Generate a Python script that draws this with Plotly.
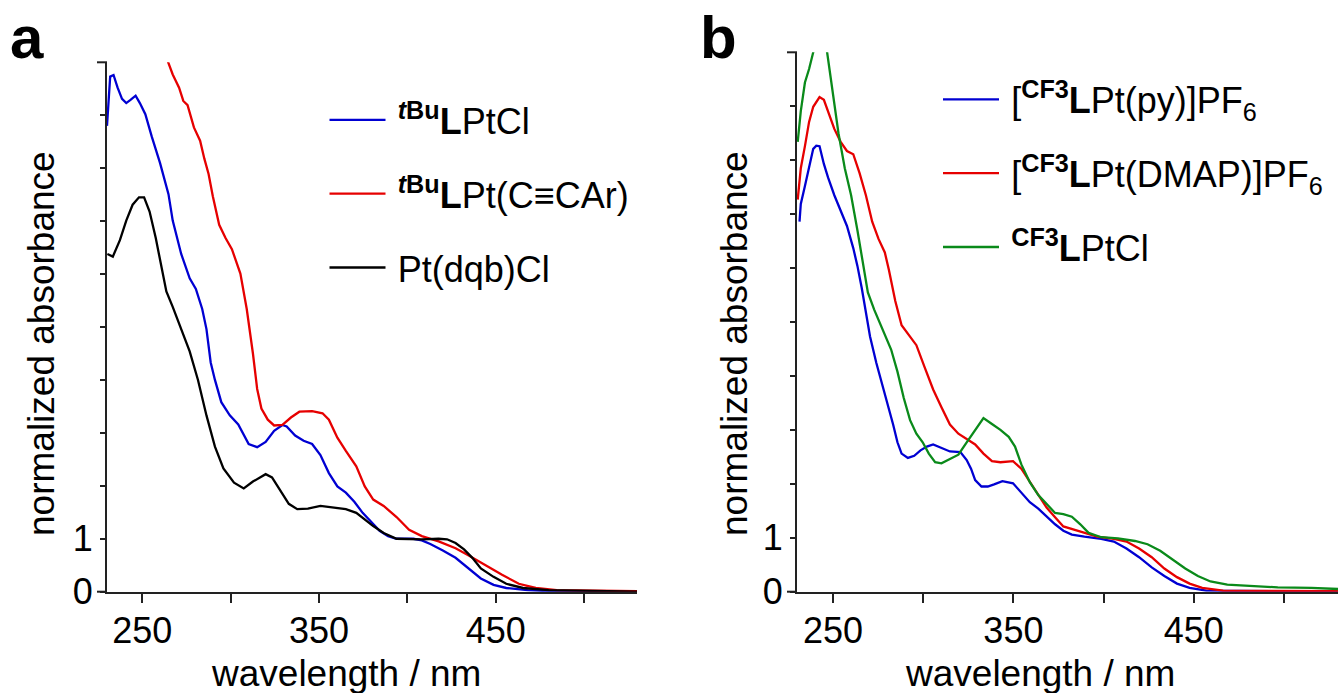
import plotly.graph_objects as go

# ---------------- data: panel a ----------------
wl_a_tbu_cl = [230, 231.8, 233.7, 236, 238.5, 240.9, 243.3, 246.2, 248.6, 251.7, 255.3, 260, 264.8, 267.2,
               272, 276.8, 280.3, 283.9, 286.3, 288.7, 291.1, 294.7, 299.5, 304.3, 310.2, 315, 319.8, 324.6,
               329.3, 331.7, 336.5, 341.3, 346.1, 350.8, 355.6, 360.4, 365.2, 370, 374.7, 379.5, 384.3,
               389.1, 393.9, 403.4, 408.2, 413, 420.1, 427.3, 434.5, 441.6, 448.8, 456, 468, 480, 530]
abs_a_tbu_cl = [8.8, 9.73, 9.76, 9.52, 9.31, 9.23, 9.29, 9.37, 9.23, 9.02, 8.6, 8.1, 7.51, 7.01,
                6.38, 5.92, 5.72, 5.34, 4.96, 4.33, 4.0, 3.58, 3.33, 3.16, 2.79, 2.73, 2.83, 3.04,
                3.15, 3.12, 2.95, 2.85, 2.79, 2.58, 2.24, 1.99, 1.87, 1.7, 1.49, 1.32, 1.15,
                1.05, 1.0, 1.0, 0.97, 0.9, 0.78, 0.64, 0.44, 0.25, 0.13, 0.07, 0.03, 0.01, 0.0]

wl_a_tbu_ccar = [263.5, 264.3, 267.2, 270.8, 273.2, 275.6, 279.2, 282.7, 285.1, 287.5, 289.9, 293.5, 297.1,
                 300.7, 305.5, 309.1, 312.6, 315, 317.4, 321, 324.6, 329.3, 334.1, 338.9, 346.1, 352,
                 355.6, 360.4, 365.2, 371.1, 375.9, 380.7, 386.6, 393.9, 401, 408.2, 417.7, 427.3, 434.5,
                 444, 453.6, 463.1, 472.7, 484.6, 530]
abs_a_tbu_ccar = [10.2, 10.03, 9.77, 9.52, 9.27, 9.19, 8.77, 8.52, 8.18, 7.89, 7.47, 6.93, 6.68,
                  6.47, 6.01, 5.34, 4.5, 3.83, 3.46, 3.25, 3.14, 3.15, 3.29, 3.40, 3.41, 3.37,
                  3.25, 2.91, 2.66, 2.37, 1.99, 1.74, 1.62, 1.41, 1.17, 1.05, 0.95, 0.82, 0.69,
                  0.5, 0.32, 0.15, 0.07, 0.03, 0.01]

wl_a_dqb = [230.2, 233.3, 237.3, 240.9, 244.5, 248.1, 251, 254.1, 257.6, 261.2, 263.6, 267.2, 272, 276.8,
            281.5, 286.3, 291.1, 295.9, 301.9, 307.4, 312.6, 319.8, 323.4, 328.1, 332.9, 337.7, 343.7,
            350.8, 358, 365.2, 371.1, 375.9, 380.7, 386.6, 393.9, 408.2, 417.7, 422.5, 427.3, 432.1,
            436.8, 441.6, 448.8, 456, 465.5, 480, 513.4, 530]
abs_a_dqb = [6.38, 6.33, 6.64, 7.01, 7.31, 7.45, 7.45, 7.18, 6.68, 6.09, 5.67, 5.38, 4.96, 4.54,
             4.0, 3.33, 2.74, 2.33, 2.06, 1.95, 2.08, 2.22, 2.16, 1.91, 1.66, 1.56, 1.57,
             1.62, 1.59, 1.56, 1.49, 1.36, 1.24, 1.11, 1.0, 0.99, 1.0, 0.99, 0.92, 0.8,
             0.64, 0.44, 0.28, 0.15, 0.07, 0.03, 0.01, 0.0]

# ---------------- data: panel b ----------------
wl_b_py = [231.4, 232.1, 234.4, 236.7, 239, 240.7, 242.5, 244.9, 247.2, 250.7, 254.2, 257.7, 261.2, 263.5,
           265.9, 268.2, 270.5, 274, 277.5, 281, 283.3, 285.7, 288, 291.5, 295, 298.5, 302, 305.5, 310.1,
           314.8, 320.6, 324.1, 326.5, 328.8, 332.3, 335.8, 339.3, 343.9, 349.8, 354.4, 359.1, 363.8,
           368.4, 373.1, 377.7, 382.4, 389.4, 398.7, 405.7, 412.7, 419.7, 426.7, 433.7, 440.7, 447.7,
           457, 530]
abs_b_py = [6.86, 7.19, 7.52, 7.85, 8.21, 8.27, 8.26, 7.93, 7.68, 7.35, 7.07, 6.78, 6.37, 6.04,
            5.63, 5.14, 4.73, 4.24, 3.83, 3.42, 3.1, 2.77, 2.56, 2.48, 2.52, 2.62, 2.69, 2.73, 2.66,
            2.6, 2.59, 2.44, 2.28, 2.07, 1.95, 1.95, 1.99, 2.05, 2.01, 1.83, 1.66, 1.54,
            1.39, 1.25, 1.13, 1.06, 1.02, 0.98, 0.93, 0.8, 0.64, 0.45, 0.29, 0.15, 0.07,
            0.02, 0.0]

wl_b_dmap = [230.4, 232.1, 234.4, 236.7, 239, 242.5, 244.9, 247.2, 250.7, 254.2, 257.7, 261.2, 264.7, 268.2,
             271.7, 275.2, 278.7, 281, 284.5, 288, 292.7, 296.2, 300.8, 305.5, 310.1, 314.8, 319.5, 324.1,
             328.8, 333.4, 338.1, 342.8, 349.8, 354.4, 359.1, 363.8, 368.4, 373.1, 377.7, 383.6, 389.4,
             396.4, 405.7, 412.7, 419.7, 426.7, 433.7, 440.7, 447.7, 454.7, 466.3, 530]
abs_b_dmap = [7.27, 7.85, 8.26, 8.71, 8.99, 9.17, 9.12, 8.91, 8.58, 8.34, 8.17, 8.11, 7.76, 7.35,
              6.86, 6.54, 6.29, 5.96, 5.39, 4.94, 4.73, 4.57, 4.16, 3.75, 3.42, 3.1, 2.93, 2.83,
              2.73, 2.56, 2.42, 2.4, 2.42, 2.28, 2.03, 1.79, 1.56, 1.38, 1.21, 1.15, 1.09,
              1.02, 0.98, 0.93, 0.8, 0.64, 0.43, 0.27, 0.15, 0.07, 0.02, 0.01]

wl_b_cf3_cl = [230.4, 232.1, 234.4, 236.7, 239, 242.8, 246.7, 249.5, 253, 256.5, 260, 263.5, 267, 269.3,
               272.8, 277.5, 282.2, 285.7, 289.2, 292.7, 296.2, 299.7, 303.1, 306.6, 310.1, 314.8, 319.5,
               324.1, 328.8, 333.4, 338.1, 342.8, 347.4, 350.9, 354.4, 359.1, 363.8, 368.4, 373.1, 377.7,
               382.4, 387.1, 391.7, 398.7, 408, 417.4, 424.4, 431.4, 438.3, 445.3, 452.3, 459.3, 468.6,
               480.3, 496.6, 515.3, 530]
abs_b_cf3_cl = [8.34, 8.91, 9.44, 9.69, 10.0, 10.5, 10.0, 9.32, 8.5, 7.85, 7.35, 6.7, 6.04, 5.55,
                5.23, 4.86, 4.49, 4.08, 3.59, 3.18, 2.93, 2.77, 2.56, 2.4, 2.38, 2.46, 2.54,
                2.77, 3.01, 3.22, 3.11, 3.0, 2.87, 2.69, 2.36, 2.03, 1.79, 1.62, 1.46, 1.44,
                1.39, 1.25, 1.09, 1.01, 0.99, 0.94, 0.88, 0.76, 0.6, 0.43, 0.29, 0.19, 0.13,
                0.11, 0.08, 0.07, 0.05]

x_label_vals = [250, 350, 450]
x_minor_vals = [300, 400, 500]
y_label_vals = [0, 1]
y_minor_vals = [2, 3, 4, 5, 6, 7, 8, 9]

names_a = ["\u2009<sup><b><i>t</i>Bu</b></sup><b>L</b>PtCl",
           "\u2009<sup><b><i>t</i>Bu</b></sup><b>L</b>Pt(C\u2261CAr)",
           "\u2009Pt(dqb)Cl"]
names_b = ["\u2009[<sup><b>CF3</b></sup><b>L</b>Pt(py)]PF<sub>6</sub>",
           "\u2009[<sup><b>CF3</b></sup><b>L</b>Pt(DMAP)]PF<sub>6</sub>",
           "\u2009<sup><b>CF3</b></sup><b>L</b>PtCl"]

BLUE = "#0000d2"
RED = "#e60000"
BLACK = "#000000"
GREEN = "#0a8a1a"
AX = "#222222"
FONT = "Liberation Sans, Arial, sans-serif"
LW = 2.3

W, H = 1340, 693


def px_x(p):
    return p / W


def px_y(p):
    return 1 - p / H


fig = go.Figure()

series_a = [(wl_a_tbu_cl, abs_a_tbu_cl, BLUE), (wl_a_tbu_ccar, abs_a_tbu_ccar, RED), (wl_a_dqb, abs_a_dqb, BLACK)]
for i, (xs, ys, c) in enumerate(series_a):
    fig.add_trace(go.Scatter(x=xs, y=ys, mode="lines", line=dict(color=c, width=LW),
                             name=names_a[i], xaxis="x", yaxis="y", legend="legend",
                             legendgroup="a%d" % i))

series_b = [(wl_b_py, abs_b_py, BLUE), (wl_b_dmap, abs_b_dmap, RED), (wl_b_cf3_cl, abs_b_cf3_cl, GREEN)]
for i, (xs, ys, c) in enumerate(series_b):
    fig.add_trace(go.Scatter(x=xs, y=ys, mode="lines", line=dict(color=c, width=LW),
                             name=names_b[i], xaxis="x2", yaxis="y2", legend="legend2",
                             legendgroup="b%d" % i))

xa = dict(range=[230, 530], tickmode="array", tickvals=x_label_vals,
          ticktext=[str(v) for v in x_label_vals],
          ticks="outside", ticklen=9, tickwidth=2, tickcolor=AX, showline=True, linewidth=2,
          linecolor=AX, showgrid=False, zeroline=False, automargin=False, ticklabelstandoff=-3,
          minor=dict(tickmode="array", tickvals=x_minor_vals, ticks="outside", ticklen=9,
                     tickwidth=2, tickcolor=AX, showgrid=False),
          tickfont=dict(family=FONT, size=36, color="black"))
ya = dict(range=[0, 10], tickmode="array", tickvals=y_label_vals,
          ticktext=[str(v) for v in y_label_vals],
          ticks="outside", ticklen=5, tickwidth=2, tickcolor=AX, showline=True, linewidth=2,
          linecolor=AX, showgrid=False, zeroline=False, automargin=False,
          minor=dict(tickmode="array", tickvals=y_minor_vals, ticks="outside", ticklen=5,
                     tickwidth=2, tickcolor=AX, showgrid=False),
          tickfont=dict(family=FONT, size=36, color="black"))

legend_common = dict(font=dict(family=FONT, size=36, color="black"), bgcolor="rgba(0,0,0,0)",
                     borderwidth=0, itemwidth=56, tracegroupgap=24, traceorder="grouped",
                     xanchor="left", yanchor="top")

fig.update_layout(
    width=W, height=H, margin=dict(l=0, r=0, t=0, b=0), autosize=False,
    paper_bgcolor="white", plot_bgcolor="white",
    font=dict(family=FONT, color="black"),
    xaxis=dict(xa, domain=[px_x(107), px_x(637)], anchor="y"),
    yaxis=dict(ya, domain=[px_y(591.7), px_y(62.3)], anchor="x"),
    xaxis2=dict(xa, domain=[px_x(797), px_x(1338)], anchor="y2"),
    yaxis2=dict(ya, domain=[px_y(591.7), px_y(52.3)], anchor="x2"),
    legend=dict(legend_common, x=px_x(324.5), y=px_y(90)),
    legend2=dict(legend_common, x=px_x(938), y=px_y(69.5)),
    showlegend=True,
)

# long end ticks at 0 and 10 on both y axes
shapes = []
for xr, yr in (("x domain", "y domain"), ("x2 domain", "y2 domain")):
    for yv in (0, 1):
        shapes.append(dict(type="line", xref=xr, yref=yr, xsizemode="pixel", xanchor=0,
                           x0=-10, x1=0, y0=yv, y1=yv, line=dict(color=AX, width=2)))
fig.update_layout(shapes=shapes)

ann = []
ann.append(dict(text="<b>a</b>", x=px_x(8), y=px_y(37), xref="paper", yref="paper",
                xanchor="left", yanchor="middle", showarrow=False,
                font=dict(family=FONT, size=60, color="black")))
ann.append(dict(text="<b>b</b>", x=px_x(698), y=px_y(37), xref="paper", yref="paper",
                xanchor="left", yanchor="middle", showarrow=False,
                font=dict(family=FONT, size=60, color="black")))
for cx in (41, 734):
    ann.append(dict(text="normalized absorbance", x=px_x(cx), y=px_y(344), xref="paper", yref="paper",
                    xanchor="center", yanchor="middle", textangle=-90, showarrow=False,
                    font=dict(family=FONT, size=37, color="black")))
for cx in (346, 1040):
    ann.append(dict(text="wavelength / nm", x=px_x(cx), y=px_y(673), xref="paper", yref="paper",
                    xanchor="center", yanchor="middle", showarrow=False,
                    font=dict(family=FONT, size=37, color="black")))
fig.update_layout(annotations=ann)

fig.write_html("out.html", config={"displayModeBar": False},
               post_script="document.body.style.margin='0';document.body.style.overflow='hidden';")
